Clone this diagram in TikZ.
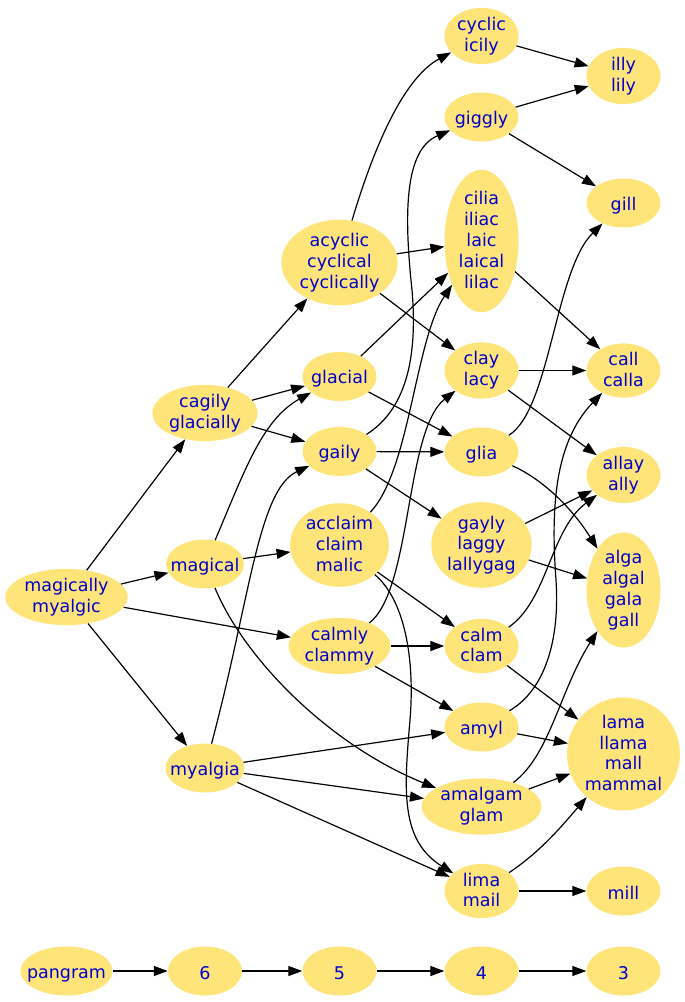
\documentclass[tikz,border=0pt]{standalone}
\usepackage{fontspec}
\setmainfont{DejaVu Sans}
\usetikzlibrary{shapes.geometric,arrows.meta}
\definecolor{nodefill}{RGB}{255,228,122}
\definecolor{nodetext}{RGB}{0,0,205}
\newcommand{\linestrut}{\vrule width 0pt height 18.6pt depth 2.2pt}

\begin{document}
\begin{tikzpicture}[x=1pt,y=-1pt,
    word/.style={ellipse, fill=nodefill, text=nodetext, align=center,
      inner xsep=1.2pt, inner ysep=1pt, minimum width=74pt, minimum height=49pt,
      font=\fontsize{17.5}{20.8}\selectfont,
      execute at begin node=\linestrut, execute at end node=\linestrut},
    oneline/.style={word, inner xsep=-7pt},
    link/.style={-{Triangle[length=14pt,width=10pt]}, line width=1.2pt}]
        \def\xa{66.5} % column positions
        \def\xb{205}
        \def\xc{339.5}
        \def\xd{481.5}
        \def\xe{623.5}

        \useasboundingbox (0,0) rectangle (685,1002);

        % Define word nodes, column by column
        \node[word] (magically) at (\xa,597) {magically\\myalgic};

        \node[word] (cagily) at (\xb,413) {cagily\\glacially};
        \node[oneline] (magical) at (\xb,564) {magical};
        \node[oneline] (myalgia) at (\xb,768) {myalgia};

        \node[word] (acyclic) at (\xc,262.5) {acyclic\\cyclical\\cyclically};
        \node[oneline] (glacial) at (\xc,376.5) {glacial};
        \node[oneline] (gaily) at (\xc,451.5) {gaily};
        \node[word] (acclaim) at (\xc,545) {acclaim\\claim\\malic};
        \node[word] (calmly) at (\xc,646) {calmly\\clammy};

        \node[word] (cyclic) at (\xd,36) {cyclic\\icily};
        \node[oneline] (giggly) at (\xd,117) {giggly};
        \node[word] (cilia) at (\xd,241) {cilia\\iliac\\laic\\laical\\lilac};
        \node[word] (clay) at (\xd,370.5) {clay\\lacy};
        \node[oneline] (glia) at (\xd,452) {glia};
        \node[word] (gayly) at (\xd,545) {gayly\\laggy\\lallygag};
        \node[word] (calm) at (\xd,646) {calm\\clam};
        \node[oneline] (amyl) at (\xd,727) {amyl};
        \node[word] (amalgam) at (\xd,806.5) {amalgam\\glam};
        \node[word] (lima) at (\xd,891) {lima\\mail};

        \node[word] (illy) at (\xe,76) {illy\\lily};
        \node[oneline] (gill) at (\xe,203) {gill};
        \node[word] (call) at (\xe,370.5) {call\\calla};
        \node[word] (allay) at (\xe,475) {allay\\ally};
        \node[word] (alga) at (\xe,590) {alga\\algal\\gala\\gall};
        \node[word] (lama) at (\xe,754) {lama\\llama\\mall\\mammal};
        \node[oneline] (mill) at (\xe,891) {mill};

        % Define straight links
        \foreach \a/\b in
        {
            magically/cagily, magically/magical, magically/calmly, magically/myalgia,
            cagily/acyclic, cagily/glacial, cagily/gaily,
            magical/acclaim,
            myalgia/amyl, myalgia/amalgam, myalgia/lima,
            acyclic/cilia, acyclic/clay,
            glacial/cilia, glacial/glia,
            gaily/glia, gaily/gayly,
            acclaim/calm,
            calmly/calm, calmly/amyl,
            cyclic/illy, giggly/illy, giggly/gill,
            cilia/call, clay/call, clay/allay,
            gayly/allay, gayly/alga,
            calm/lama, amyl/lama, amalgam/lama,
            lima/mill} {
        \draw[link] (\a) -- (\b);
        }

        % Define curved links
        \draw[link] (acyclic) .. controls (370,160) and (400,80) .. (cyclic);
        \draw[link] (magical) .. controls (245,470) and (262,420) .. (glacial);
        \draw[link] (myalgia) .. controls (250,600) and (258,490) .. (gaily);
        \draw[link] (magical) .. controls (245,660) and (330,745) .. (amalgam);
        \draw[link] (gaily) .. controls (405,410) and (418,360) .. (412,290)
            .. controls (404,215) and (404,150) .. (giggly);
        \draw[link] (acclaim) .. controls (410,470) and (415,340) .. (cilia);
        \draw[link] (calmly) .. controls (412,590) and (405,430) .. (clay);
        \draw[link] (acclaim) .. controls (405,600) and (415,660) .. (410,720)
            .. controls (404,790) and (400,840) .. (lima);
        \draw[link] (glia) .. controls (550,410) and (555,270) .. (gill);
        \draw[link] (glia) .. controls (540,478) and (570,505) .. (alga);
        \draw[link] (calm) .. controls (548,600) and (550,530) .. (allay);
        \draw[link] (amyl) .. controls (545,690) and (560,640) .. (556,580)
            .. controls (550,500) and (557,440) .. (call);
        \draw[link] (amalgam) .. controls (550,755) and (560,690) .. (alga);
        \draw[link] (lima) .. controls (540,852) and (562,826) .. (lama);

        % Define count row
        \node[oneline] (pangram) at (\xa,971) {pangram};
        \foreach \x/\n in {\xb/6, \xc/5, \xd/4, \xe/3} {
        \node[oneline] (c\n) at (\x,971) {\n};
        }
        \foreach \a/\b in {pangram/c6, c6/c5, c5/c4, c4/c3} {
        \draw[link] (\a) -- (\b);
        }
    \end{tikzpicture}
\end{document}
